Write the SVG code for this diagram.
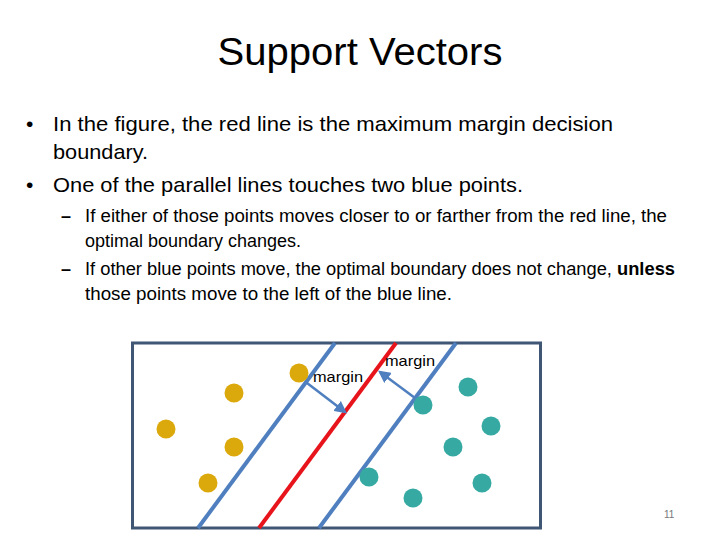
<svg xmlns="http://www.w3.org/2000/svg" width="720" height="540" viewBox="0 0 720 540">
<defs>
<style>
text{font-family:"Liberation Sans",Arial,sans-serif;fill:#000}
.title{font-size:38px}
.b1{font-size:21px}
.b2{font-size:17.5px}
.dash{font-size:18px;font-weight:bold}
.lbl{font-size:15px}
.sep{stroke:#4f7fbf;stroke-width:4;fill:none}
.y{fill:#dca90c}
.t{fill:#36aaa2}
.arr{stroke:#4f7fbf;stroke-width:2.5;fill:none;marker-end:url(#ah)}
</style>
<marker id="ah" viewBox="0 0 10 10" refX="8" refY="5" markerWidth="5" markerHeight="5" orient="auto" markerUnits="strokeWidth">
<path d="M0,0 L10,5 L0,10 z" fill="#4f7fbf"/>
</marker>
</defs>
<rect width="720" height="540" fill="#fff"/>
<text class="title" x="360" y="65" text-anchor="middle" textLength="285" lengthAdjust="spacingAndGlyphs">Support Vectors</text>
<g id="bullets">
<text class="b1" x="26" y="131">•</text>
<text class="b1" x="53" y="131" textLength="560" lengthAdjust="spacingAndGlyphs">In the figure, the red line is the maximum margin decision</text>
<text class="b1" x="53" y="159" textLength="95" lengthAdjust="spacingAndGlyphs">boundary.</text>
<text class="b1" x="26" y="192">•</text>
<text class="b1" x="53" y="192" textLength="470" lengthAdjust="spacingAndGlyphs">One of the parallel lines touches two blue points.</text>
<text class="dash" x="61" y="222">–</text>
<text class="b2" x="85" y="222" textLength="582" lengthAdjust="spacingAndGlyphs">If either of those points moves closer to or farther from the red line, the</text>
<text class="b2" x="85" y="247" textLength="216" lengthAdjust="spacingAndGlyphs">optimal boundary changes.</text>
<text class="dash" x="61" y="275">–</text>
<text class="b2" x="85" y="275" textLength="590" lengthAdjust="spacingAndGlyphs">If other blue points move, the optimal boundary does not change, <tspan font-weight="bold">unless</tspan></text>
<text class="b2" x="85" y="300" textLength="367" lengthAdjust="spacingAndGlyphs">those points move to the left of the blue line.</text>
</g>
<g id="figure">
<rect x="132.5" y="343" width="408" height="185" fill="#fff" stroke="#3f5775" stroke-width="3"/>
</g>
<g id="lines">
<line class="sep" x1="335" y1="343" x2="198" y2="528"/>
<line x1="396" y1="343" x2="259" y2="528" stroke="#e8141c" stroke-width="4"/>
<line class="sep" x1="456" y1="343" x2="319" y2="528"/>
</g>
<g id="yellow-points">
<circle class="y" cx="299" cy="373" r="9.5"/>
<circle class="y" cx="234" cy="393" r="9.5"/>
<circle class="y" cx="166" cy="429" r="9.5"/>
<circle class="y" cx="234" cy="447" r="9.5"/>
<circle class="y" cx="208" cy="483" r="9.5"/>
</g>
<g id="teal-points">
<circle class="t" cx="468" cy="387" r="9.5"/>
<circle class="t" cx="423" cy="405" r="9.5"/>
<circle class="t" cx="491" cy="426" r="9.5"/>
<circle class="t" cx="453" cy="447" r="9.5"/>
<circle class="t" cx="369" cy="477" r="9.5"/>
<circle class="t" cx="482" cy="483" r="9.5"/>
<circle class="t" cx="413" cy="498" r="9.5"/>
</g>
<g id="connectors">
<line class="arr" x1="307" y1="383" x2="345" y2="412"/>
<line class="arr" x1="415" y1="398" x2="380" y2="372"/>
</g>
<g id="labels">
<text class="lbl" x="313" y="382" textLength="50" lengthAdjust="spacingAndGlyphs">margin</text>
<text class="lbl" x="385" y="366" textLength="50" lengthAdjust="spacingAndGlyphs">margin</text>
</g>
<text x="664" y="518" font-size="10" style="fill:#777">11</text>
</svg>
